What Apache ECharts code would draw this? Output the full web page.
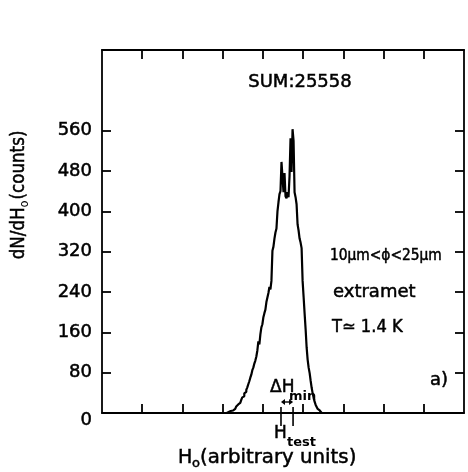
<!DOCTYPE html>
<html><head><meta charset="utf-8">
<script src="https://cdn.jsdelivr.net/npm/echarts@6/dist/echarts.min.js"></script>
<style>html,body{margin:0;padding:0;background:#fff}#c{width:468px;height:472px}</style>
</head><body><div id="c"></div>
<script>
// histogram: bin centres start at xStart, step binWidth (arbitrary units)
const xStart = 3.0;
const binWidth = 0.025;
const counts = [
  0, 0, 0, 0, 0, 1, 2, 3, 4, 4,
  5, 6, 8, 10, 13, 14, 17, 20, 22, 26,
  31, 33, 39, 42, 46, 51, 57, 63, 70, 76,
  85, 90, 98, 104, 112, 124, 142, 136, 156, 170,
  176, 190, 198, 205, 220, 229, 238, 250, 245, 262,
  322, 330, 346, 358, 366, 400, 418, 434, 440, 498,
  468, 438, 476, 430, 426, 438, 428, 470, 545, 478,
  563, 540, 438, 428, 414, 374, 362, 346, 338, 327,
  262, 230, 197, 166, 130, 106, 90, 79, 64, 50,
  39, 30, 22, 16, 12, 8, 5, 3, 2, 0, 0
];
const yLabelValues = [0, 80, 160, 240, 320, 400, 480, 560];
const yTickValues = [80, 160, 240, 320, 400, 480, 560];
const xTickValues = [1, 2, 3, 4, 5, 6, 7, 8];
const hTestBounds = [4.45, 4.75];
const sumText = 'SUM:25558';

const FONT = "'DejaVu Sans', 'Liberation Sans', sans-serif";
const chart = echarts.init(document.getElementById('c'), null, {renderer: 'canvas'});

const histData = counts.map((c, i) => [xStart + i * binWidth, c]);

const axisLineStyle = {show: true, onZero: false, lineStyle: {color: '#000', width: 1.8}};
function xAx(pos) {
  return {
    type: 'value', min: 0, max: 9, interval: 1, position: pos,
    axisLine: axisLineStyle,
    axisTick: {show: true, inside: true, length: 9, customValues: xTickValues, lineStyle: {color: '#000', width: 1.8}},
    axisLabel: {show: false}, splitLine: {show: false}
  };
}
function yAx(pos, labels) {
  return {
    type: 'value', min: 0, max: 720, interval: 80, position: pos,
    axisLine: axisLineStyle,
    axisTick: {show: true, inside: true, length: 9, customValues: yTickValues, lineStyle: {color: '#000', width: 1.8}},
    axisLabel: labels ? {
      show: true, customValues: yLabelValues, color: '#000', fontSize: 18, fontFamily: FONT, margin: 10,
      textBorderColor: '#000', textBorderWidth: 0.5,
      formatter: v => v === 0 ? '{z|0}' : String(v),
      rich: {z: {fontSize: 18, fontFamily: FONT, color: '#000', textBorderColor: '#000', textBorderWidth: 0.5, padding: [14, 0, 0, 0]}}
    } : {show: false},
    splitLine: {show: false}
  };
}

chart.setOption({
  animation: false,
  backgroundColor: '#fff',
  grid: {left: 102, top: 50, right: 4, bottom: 59, containLabel: false},
  xAxis: [xAx('bottom'), xAx('top')],
  yAxis: [yAx('left', true), yAx('right', false)],
  series: [{
    type: 'line', xAxisIndex: 0, yAxisIndex: 0, data: histData,
    step: 'middle', symbol: 'none', showSymbol: false,
    lineStyle: {color: '#000', width: 2.2}, z: 3
  }]
});

const px1 = chart.convertToPixel({xAxisIndex: 0}, hTestBounds[0]);
const px2 = chart.convertToPixel({xAxisIndex: 0}, hTestBounds[1]);
const yAxisPix = chart.convertToPixel({yAxisIndex: 0}, 0);
const arrowY = yAxisPix - 11;

function txt(x, y, s, size, align, extra) {
  const st = {text: s, fontSize: size, fontFamily: FONT, fill: '#000', stroke: '#000', lineWidth: 0.5, align: align || 'left', verticalAlign: 'middle'};
  return Object.assign({type: 'text', x: x, y: y, style: st}, extra || {});
}

chart.setOption({
  graphic: [
    txt(300, 82, sumText, 18, 'center'),
    txt(330, 256, '10μm<ϕ<25μm', 15, 'left', {scaleX: 0.92}),
    txt(333, 292, 'extramet', 18),
    txt(332, 328, 'T≃ 1.4 K', 17, 'left', {scaleX: 0.96}),
    txt(430, 380, 'a)', 18),
    txt(270, 388, 'ΔH', 17),
    {type: 'text', x: 289, y: 397, style: {text: 'min', fontSize: 13, fontWeight: 'bold', fontFamily: FONT, fill: '#000', align: 'left', verticalAlign: 'middle'}},
    txt(274, 434, 'H', 17),
    {type: 'text', x: 287, y: 443, style: {text: 'test', fontSize: 13, fontWeight: 'bold', fontFamily: FONT, fill: '#000', align: 'left', verticalAlign: 'middle'}},
    // Htest markers
    {type: 'line', shape: {x1: px1, y1: yAxisPix - 6, x2: px1, y2: yAxisPix + 13}, style: {stroke: '#000', lineWidth: 1.6}},
    {type: 'line', shape: {x1: px2, y1: yAxisPix - 6, x2: px2, y2: yAxisPix + 13}, style: {stroke: '#000', lineWidth: 1.6}},
    {type: 'line', shape: {x1: px1 + 2, y1: arrowY, x2: px2 - 2, y2: arrowY}, style: {stroke: '#000', lineWidth: 1.4}},
    {type: 'polygon', shape: {points: [[px1, arrowY], [px1 + 4, arrowY - 3], [px1 + 4, arrowY + 3]]}, style: {fill: '#000'}},
    {type: 'polygon', shape: {points: [[px2, arrowY], [px2 - 4, arrowY - 3], [px2 - 4, arrowY + 3]]}, style: {fill: '#000'}},
    // x axis name
    txt(178, 458, 'H', 19),
    txt(192, 464, 'o', 13),
    txt(200, 458, '(arbitrary units)', 19, 'left', {scaleX: 1.04}),
    // y axis name (rotated)
    {type: 'group', x: 19, y: 196, rotation: Math.PI / 2, scaleX: 0.88, children: [
      {type: 'text', x: -72, y: 0, style: {text: 'dN/dH', fontSize: 19, fontFamily: FONT, fill: '#000', stroke: '#000', lineWidth: 0.5, align: 'left', verticalAlign: 'middle'}},
      {type: 'text', x: -13, y: 6, style: {text: 'o', fontSize: 13, fontFamily: FONT, fill: '#000', align: 'left', verticalAlign: 'middle'}},
      {type: 'text', x: -4, y: 0, style: {text: '(counts)', fontSize: 19, fontFamily: FONT, fill: '#000', stroke: '#000', lineWidth: 0.5, align: 'left', verticalAlign: 'middle'}}
    ]}
  ]
});
</script>
</body></html>
